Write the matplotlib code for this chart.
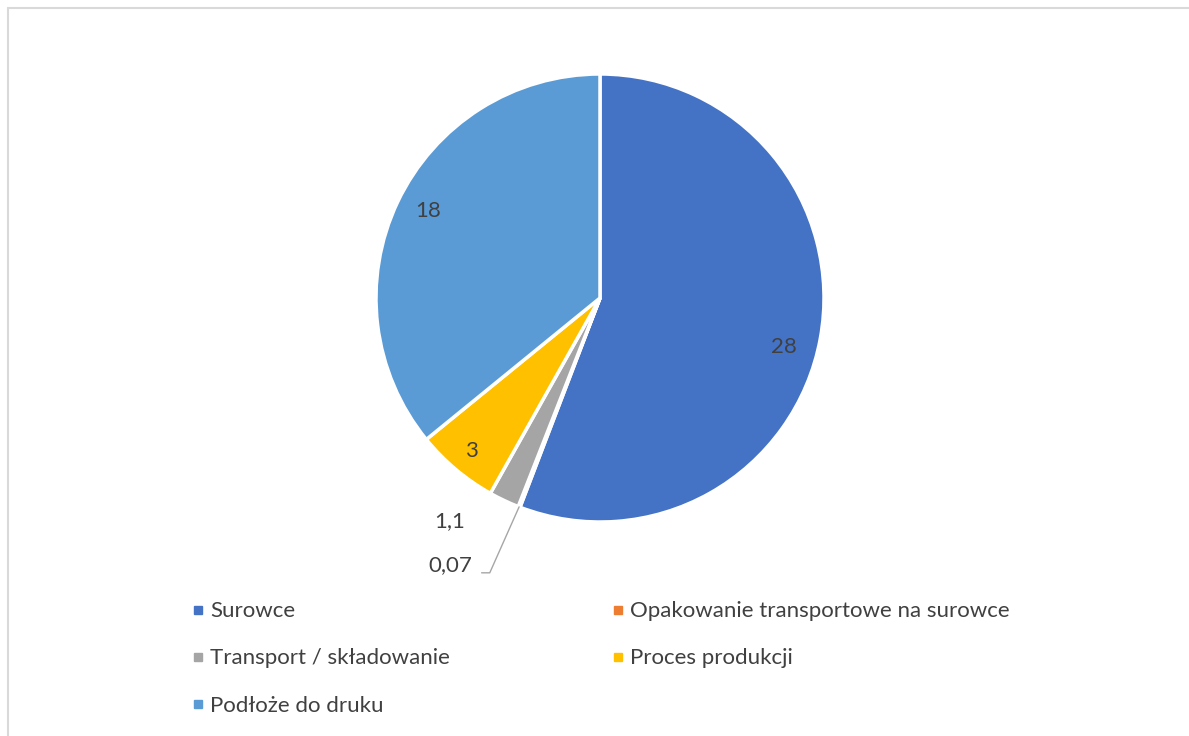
import numpy as np
import matplotlib
matplotlib.use('Agg')
import matplotlib.pyplot as plt
from matplotlib.patches import Rectangle
from matplotlib.lines import Line2D

categories = ['Surowce', 'Opakowanie transportowe na surowce', 'Transport / składowanie',
              'Proces produkcji', 'Podłoże do druku']
values = [28, 0.07, 1.1, 3, 18]
value_labels = ['28', '0,07', '1,1', '3', '18']
colors = ['#4472C4', '#ED7D31', '#A5A5A5', '#FFC000', '#5B9BD5']

plt.rcParams['font.family'] = ['Lato', 'DejaVu Sans']
W, H = 1189, 736
fig = plt.figure(figsize=(W / 100, H / 100), dpi=100)
ax = fig.add_axes([0, 0, 1, 1])

# chart frame (cut off at right/bottom like the screenshot)
fig.patches.append(Rectangle((8 / W, -0.1), 1.2, 1 - 8 / H + 0.1, transform=fig.transFigure,
                             fill=False, edgecolor='#D9D9D9', linewidth=1.5))

cx, cy, r = 600, H - 298, 224
wedges, _ = ax.pie(values, colors=colors, startangle=90, counterclock=False,
                   center=(cx, cy), radius=r, frame=True,
                   wedgeprops=dict(edgecolor='white', linewidth=2.5))
ax.set_xlim(0, W)
ax.set_ylim(0, H)
ax.set_aspect('equal')
ax.axis('off')

lab_color = '#404040'
fs = 16
# inside labels: (radius factor, angle tweak in degrees), like excel's "best fit"
inside = {'28': (0.85, -4.5), '18': (0.86, -1.5), '3': (0.89, 0)}
for w, lab in zip(wedges, value_labels):
    mid_deg = (w.theta1 + w.theta2) / 2
    if lab in inside:
        f, da = inside[lab]
        a = np.deg2rad(mid_deg + da)
        ax.text(cx + f * r * np.cos(a), cy + f * r * np.sin(a), lab, ha='center', va='center',
                fontsize=fs, color=lab_color)
        continue
    mid = np.deg2rad(mid_deg)
    edge = (cx + r * np.cos(mid), cy + r * np.sin(mid))
    if lab == '1,1':
        ax.annotate(lab, xy=edge, xytext=(-39, -15), textcoords='offset points',
                    ha='center', va='center', fontsize=fs, color=lab_color)
    else:
        ax.annotate(lab, xy=edge, xytext=(-34, -42), textcoords='offset points',
                    ha='right', va='center', fontsize=fs, color=lab_color,
                    arrowprops=dict(arrowstyle='-', color='#A6A6A6', lw=1,
                                    relpos=(1.0, 0.12), shrinkA=5, shrinkB=0,
                                    connectionstyle='angle,angleA=0,angleB=66'))

handles = [Line2D([], [], marker='s', linestyle='', markersize=6, color=c) for c in colors]
leg_kw = dict(frameon=False, fontsize=fs, handletextpad=0.24, handlelength=0.6,
              labelspacing=1.22, labelcolor=lab_color, borderaxespad=0)
col1 = [0, 2, 4]
col2 = [1, 3]
leg1 = fig.legend([handles[i] for i in col1], [categories[i] for i in col1],
                  loc='upper left', bbox_to_anchor=(182.5 / W, 1 - 592.5 / H), **leg_kw)
leg2 = fig.legend([handles[i] for i in col2], [categories[i] for i in col2],
                  loc='upper left', bbox_to_anchor=(602.5 / W, 1 - 592.5 / H), **leg_kw)

fig.savefig('out.png', dpi=100)
